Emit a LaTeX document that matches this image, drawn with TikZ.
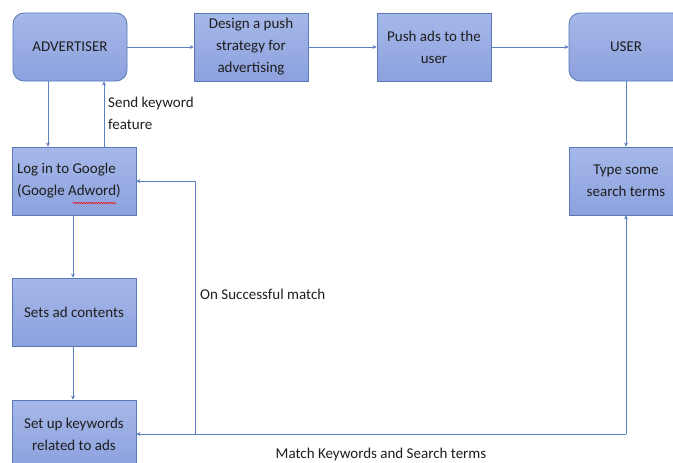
\documentclass[tikz,border=0pt]{standalone}
\usepackage{fontspec}
\setmainfont{Carlito}
\usetikzlibrary{arrows.meta,decorations.pathmorphing}
\definecolor{boxline}{RGB}{88,120,184}
\definecolor{boxtop}{RGB}{166,184,233}
\definecolor{boxbot}{RGB}{140,161,222}
\definecolor{wire}{RGB}{92,128,192}
\definecolor{ink}{RGB}{30,30,30}
\tikzset{
  stepbox/.style={draw=boxline, line width=0.8pt, top color=boxtop, bottom color=boxbot,
    minimum width=114pt, minimum height=68pt, inner sep=3pt, align=center,
    text=ink, font=\fontsize{15}{22}\selectfont},
  widebox/.style={stepbox, minimum width=124pt},
  actor/.style={stepbox, rounded corners=11pt},
  arr/.style={draw=wire, line width=0.8pt, -{Stealth[length=4pt,width=4pt]}},
  lbl/.style={text=ink, font=\fontsize{15}{22}\selectfont, inner sep=0pt, align=left}
}
\begin{document}
\begin{tikzpicture}[x=1pt,y=-1pt]
\clip (0,0) rectangle (673,463);
\fill[white] (0,0) rectangle (673,463);

% top row
\node[actor]    (adv)    at (70,47)  {ADVERTISER};
\node[stepbox]  (design) at (251,47) {Design a push\\strategy for\\advertising};
\node[stepbox]  (push)   at (434,47) {Push ads to the\\user};
\node[actor]    (user)   at (626,47) {USER};

% left column
\node[widebox, align=flush left, text width=114pt] (login) at (74,181) {Log in to Google\\(Google Adword)};
\node[widebox]  (sets)   at (74,312) {Sets ad contents};
\node[widebox]  (setup)  at (74,434) {Set up keywords\\related to ads};

% right column
\node[stepbox]  (type)   at (626,181) {Type some\\search terms};

% spell-check underline
\draw[red, line width=0.5pt, decorate, decoration={snake,amplitude=0.7pt,segment length=2.5pt}]
  (73,203) -- (116,203);

% connectors
\draw[arr] (adv.east) -- (design.west);
\draw[arr] (design.east) -- (push.west);
\draw[arr] (push.east) -- (user.west);
\draw[arr] (user.south) -- (type.north);
\draw[arr] (48,0 |- adv.south) -- (48,0 |- login.north);
\draw[arr] (104,0 |- login.north) -- (104,0 |- adv.south);
\draw[arr] (73,0 |- login.south) -- (73,0 |- sets.north);
\draw[arr] (73,0 |- sets.south) -- (73,0 |- setup.north);

\coordinate (m) at (626,434);
\coordinate (j) at (195,434);
\coordinate (k) at (195,181);
\draw[arr] (m) -- (type.south);
\draw[arr] (m) -- (setup.east);
\draw[arr] (j) -- (k) -- (login.east);

% labels
\node[lbl, anchor=north west] (l1) at (108,97) {Send keyword\\feature};
\node[lbl, anchor=base west]  (l2) at (200,299) {On Successful match};
\node[lbl, anchor=base]       (l3) at (381,458) {Match Keywords and Search terms};
\end{tikzpicture}
\end{document}
